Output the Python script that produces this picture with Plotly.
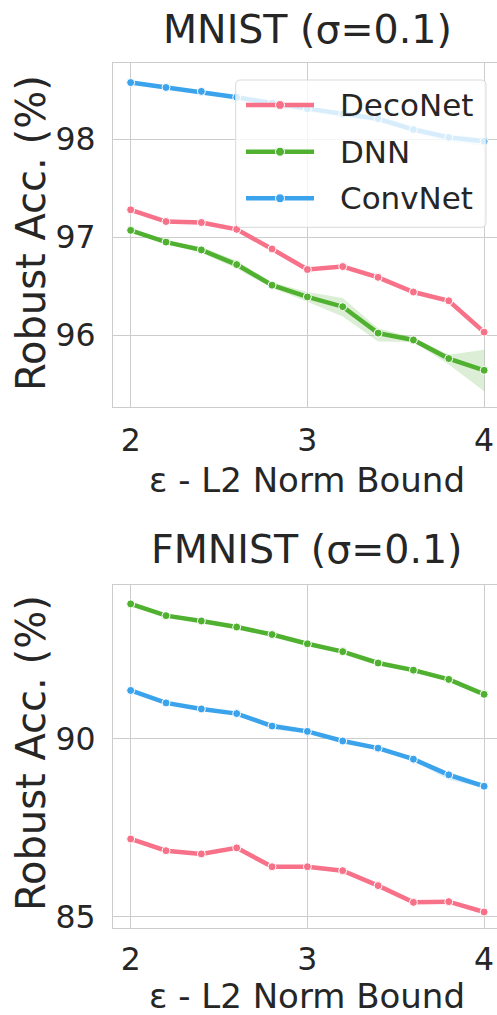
import plotly.graph_objects as go
from plotly.subplots import make_subplots

# ---------------- data ----------------
eps = [2.0, 2.2, 2.4, 2.6, 2.8, 3.0, 3.2, 3.4, 3.6, 3.8, 4.0]
models = ["DecoNet", "DNN", "ConvNet"]
colors = {"DecoNet": "#f77189", "DNN": "#50b131", "ConvNet": "#3ba3ec"}
band_colors = {"DecoNet": "rgba(247,113,137,0.2)", "DNN": "rgba(80,177,49,0.2)",
               "ConvNet": "rgba(59,163,236,0.2)"}

mnist_deconet = [97.28, 97.16, 97.15, 97.08, 96.88, 96.67, 96.70, 96.59, 96.44, 96.35, 96.03]
mnist_deconet_lo = [97.275, 97.155, 97.145, 97.075, 96.875, 96.665, 96.695, 96.585, 96.435, 96.345, 96.02]
mnist_deconet_hi = [97.285, 97.165, 97.155, 97.085, 96.885, 96.675, 96.705, 96.595, 96.445, 96.355, 96.04]

mnist_dnn = [97.07, 96.95, 96.87, 96.72, 96.51, 96.39, 96.29, 96.02, 95.95, 95.76, 95.64]
mnist_dnn_lo = [97.055, 96.935, 96.84, 96.68, 96.48, 96.34, 96.19, 95.935, 95.93, 95.70, 95.425]
mnist_dnn_hi = [97.08, 96.965, 96.90, 96.76, 96.54, 96.44, 96.38, 96.07, 95.975, 95.80, 95.85]

mnist_convnet = [98.58, 98.53, 98.49, 98.43, 98.37, 98.31, 98.26, 98.21, 98.10, 98.02, 97.98]
mnist_convnet_lo = [98.565, 98.52, 98.475, 98.40, 98.33, 98.28, 98.23, 98.18, 98.07, 97.98, 97.93]
mnist_convnet_hi = [98.59, 98.54, 98.50, 98.45, 98.40, 98.33, 98.29, 98.24, 98.13, 98.05, 98.02]

fmnist_deconet = [87.19, 86.86, 86.77, 86.94, 86.41, 86.41, 86.30, 85.88, 85.41, 85.43, 85.14]
fmnist_deconet_lo = [87.17, 86.84, 86.75, 86.92, 86.39, 86.39, 86.28, 85.86, 85.39, 85.41, 85.12]
fmnist_deconet_hi = [87.21, 86.88, 86.79, 86.96, 86.43, 86.43, 86.32, 85.90, 85.43, 85.45, 85.16]

fmnist_dnn = [93.79, 93.46, 93.31, 93.14, 92.93, 92.67, 92.45, 92.13, 91.93, 91.67, 91.25]
fmnist_dnn_lo = [93.75, 93.42, 93.28, 93.11, 92.90, 92.64, 92.42, 92.09, 91.86, 91.63, 91.20]
fmnist_dnn_hi = [93.83, 93.50, 93.34, 93.17, 92.96, 92.70, 92.48, 92.17, 92.00, 91.71, 91.30]

fmnist_convnet = [91.36, 91.01, 90.84, 90.71, 90.36, 90.21, 89.94, 89.74, 89.43, 88.99, 88.67]
fmnist_convnet_lo = [91.33, 90.98, 90.81, 90.67, 90.27, 90.15, 89.90, 89.68, 89.38, 88.85, 88.63]
fmnist_convnet_hi = [91.39, 91.04, 90.87, 90.75, 90.44, 90.27, 89.98, 89.80, 89.48, 89.08, 88.71]

titles = ["MNIST (σ=0.1)", "FMNIST (σ=0.1)"]
xlabel = "ε - L2 Norm Bound"
ylabel = "Robust Acc. (%)"
x_ticks = [2, 3, 4]
y_ticks_top = [96, 97, 98]
y_ticks_bot = [85, 90]

panels = [
    {"DecoNet": (mnist_deconet, mnist_deconet_lo, mnist_deconet_hi),
     "DNN": (mnist_dnn, mnist_dnn_lo, mnist_dnn_hi),
     "ConvNet": (mnist_convnet, mnist_convnet_lo, mnist_convnet_hi)},
    {"DecoNet": (fmnist_deconet, fmnist_deconet_lo, fmnist_deconet_hi),
     "DNN": (fmnist_dnn, fmnist_dnn_lo, fmnist_dnn_hi),
     "ConvNet": (fmnist_convnet, fmnist_convnet_lo, fmnist_convnet_hi)},
]

# ---------------- figure ----------------
W, H = 497, 1015
ML, MR, MT, MB = 113, 0, 63, 87
FONT = "DejaVu Sans"
TXT = "#262626"
GRID = "#cccccc"

fig = make_subplots(rows=2, cols=1, vertical_spacing=0.2058)

for r, panel in enumerate(panels, start=1):
    for m in models:
        mean, lo, hi = panel[m]
        fig.add_trace(go.Scatter(
            x=eps + eps[::-1], y=hi + lo[::-1], fill="toself",
            fillcolor=band_colors[m], line=dict(width=0), mode="lines",
            hoverinfo="skip", showlegend=False), row=r, col=1)
        fig.add_trace(go.Scatter(
            x=eps, y=mean, mode="lines+markers", name=m,
            line=dict(color=colors[m], width=4.5),
            marker=dict(size=8, color=colors[m], line=dict(color="white", width=1)),
            showlegend=False), row=r, col=1)

axis_common = dict(showgrid=True, gridcolor=GRID, gridwidth=1.2, zeroline=False,
                   showline=True, linecolor=GRID, linewidth=1.3, ticks="",
                   tickfont=dict(family=FONT, size=31.5, color=TXT))
fig.update_xaxes(range=[1.9, 4.073], tickvals=x_ticks, mirror=True,
                 ticklabelstandoff=5, row=1, col=1, **axis_common)
fig.update_xaxes(range=[1.9, 4.073], tickvals=x_ticks, mirror=True,
                 ticklabelstandoff=3, row=2, col=1, **axis_common)
fig.update_yaxes(range=[95.265, 98.78], tickvals=y_ticks_top, ticklabelstandoff=10,
                 row=1, col=1, **axis_common)
fig.update_yaxes(range=[84.69, 94.32], tickvals=y_ticks_bot, ticklabelstandoff=10,
                 row=2, col=1, **axis_common)
fig.update_layout(
    xaxis=dict(domain=[0, 1]), xaxis2=dict(domain=[0, 1]),
    yaxis=dict(domain=[(928 - 407) / 865, 1.0]),
    yaxis2=dict(domain=[0.0, (928 - 585) / 865]),
)

ann = []
# titles
for txt, py in zip(titles, [29, 549]):
    ann.append(dict(text=txt, xref="paper", yref="paper", x=(307 - ML) / 384,
                    y=(928 - py) / 865, xanchor="center", yanchor="middle",
                    showarrow=False, font=dict(family=FONT, size=39.5, color=TXT)))
# x labels
for py in (480, 996):
    ann.append(dict(text=xlabel, xref="paper", yref="paper", x=(307 - ML) / 384,
                    y=(928 - py) / 865, xanchor="center", yanchor="middle",
                    showarrow=False, font=dict(family=FONT, size=34, color=TXT)))
# y labels
for py in (233, 753):
    ann.append(dict(text=ylabel, xref="paper", yref="paper", x=(31 - ML) / 384,
                    y=(928 - py) / 865, xanchor="center", yanchor="middle",
                    textangle=-90, showarrow=False,
                    font=dict(family=FONT, size=40, color=TXT)))

# custom legend (top panel) in pixel-derived domain coords
def dx(px):
    return (px - ML) / 384.0

def dy(py):
    return (407 - py) / 344.0

shapes = []
x0, x1, y0, y1 = dx(235.7), dx(486), dy(227.3), dy(80)
rx, ry = 5 / 384.0, 5 / 344.0
path = (f"M{x0+rx},{y0} L{x1-rx},{y0} Q{x1},{y0} {x1},{y0+ry} L{x1},{y1-ry} "
        f"Q{x1},{y1} {x1-rx},{y1} L{x0+rx},{y1} Q{x0},{y1} {x0},{y1-ry} "
        f"L{x0},{y0+ry} Q{x0},{y0} {x0+rx},{y0} Z")
shapes.append(dict(type="path", path=path, xref="x domain", yref="y domain",
                   fillcolor="rgba(255,255,255,0.8)", line=dict(color="#d9d9d9", width=1),
                   layer="above"))
for m, py in zip(models, [105, 151.7, 198.3]):
    shapes.append(dict(type="line", xref="x domain", yref="y domain",
                       x0=dx(246), x1=dx(314), y0=dy(py), y1=dy(py),
                       line=dict(color=colors[m], width=4.5), layer="above"))
    shapes.append(dict(type="circle", xref="x domain", yref="y domain",
                       xsizemode="pixel", ysizemode="pixel",
                       xanchor=dx(280), yanchor=dy(py), x0=-4.5, x1=4.5, y0=-4.5, y1=4.5,
                       fillcolor=colors[m], line=dict(color="white", width=1), layer="above"))
    ann.append(dict(text=m, xref="x domain", yref="y domain", x=dx(338), y=dy(py),
                    xanchor="left", yanchor="middle", showarrow=False,
                    font=dict(family=FONT, size=31, color=TXT)))

fig.update_layout(
    width=W, height=H, margin=dict(l=ML, r=MR, t=MT, b=MB, pad=0),
    paper_bgcolor="white", plot_bgcolor="white",
    showlegend=False, annotations=ann, shapes=shapes,
    font=dict(family=FONT, color=TXT),
)

fig.write_html(
    "out.html",
    config={"displayModeBar": False},
    post_script="document.body.style.margin='0';document.body.style.overflow='hidden';",
)
